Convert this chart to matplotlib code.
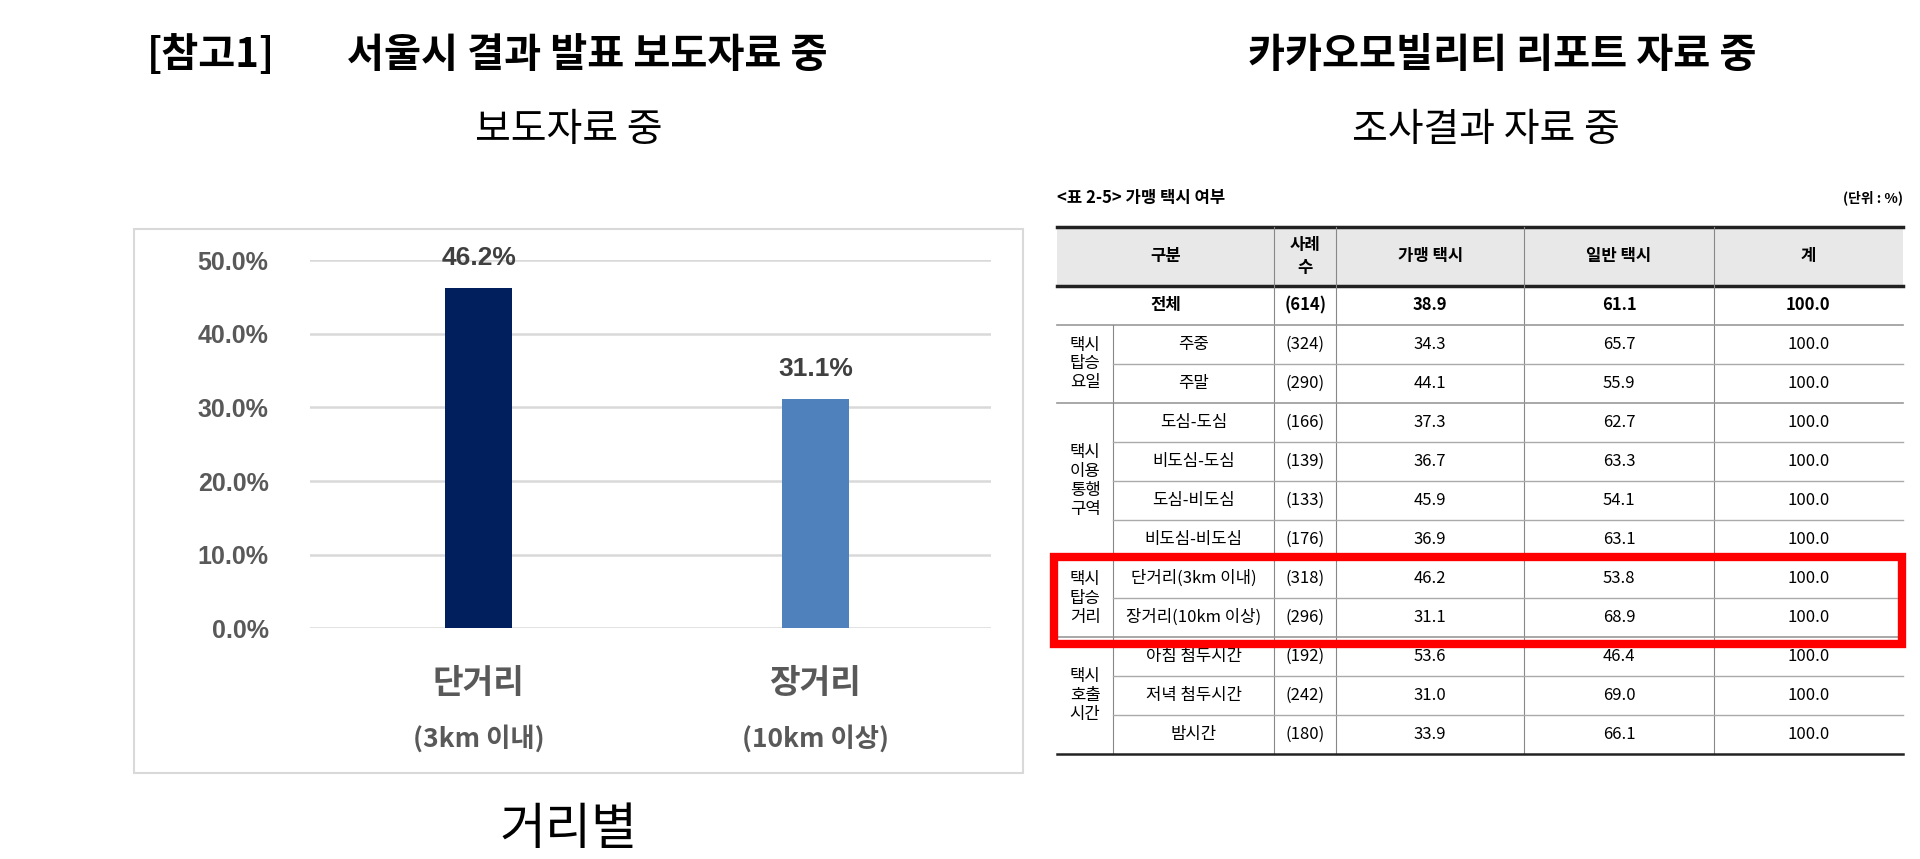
import matplotlib.pyplot as plt
from matplotlib.patches import Rectangle

plt.rcParams['font.family'] = ['Noto Sans CJK KR', 'DejaVu Sans']

# --- data ---
bar_cats = ['단거리', '장거리']
bar_sub = ['(3km 이내)', '(10km 이상)']
bar_vals = [46.2, 31.1]
bar_colors = ['#001f5c', '#4f81bd']

groups = [('', 1), ('택시\n탑승\n요일', 2), ('택시\n이용\n통행\n구역', 4),
          ('택시\n탑승\n거리', 2), ('택시\n호출\n시간', 3)]
row_names = ['전체', '주중', '주말', '도심-도심', '비도심-도심', '도심-비도심', '비도심-비도심',
             '단거리(3km 이내)', '장거리(10km 이상)', '아침 첨두시간', '저녁 첨두시간', '밤시간']
cases = ['(614)', '(324)', '(290)', '(166)', '(139)', '(133)', '(176)',
         '(318)', '(296)', '(192)', '(242)', '(180)']
franchise = [38.9, 34.3, 44.1, 37.3, 36.7, 45.9, 36.9, 46.2, 31.1, 53.6, 31.0, 33.9]
normal = [61.1, 65.7, 55.9, 62.7, 63.3, 54.1, 63.1, 53.8, 68.9, 46.4, 69.0, 66.1]
total = [100.0] * 12
headers = ['구분', '사례\n수', '가맹 택시', '일반 택시', '계']

W, H = 1566, 700  # layout units (scaled to the 1920x859 canvas)
fig = plt.figure(figsize=(19.2, 8.59), dpi=100)
ov = fig.add_axes([0, 0, 1, 1])
ov.set_xlim(0, W)
ov.set_ylim(H, 0)
ov.axis('off')

# --- titles ---
ov.text(120, 45, '[참고1]', fontsize=29, fontweight='bold', va='center')
ov.text(283, 45, '서울시 결과 발표 보도자료 중', fontsize=29, fontweight='bold', va='center')
ov.text(1225, 45, '카카오모빌리티 리포트 자료 중', fontsize=29, fontweight='bold', va='center', ha='center')
ov.text(464, 106, '보도자료 중', fontsize=28, va='center', ha='center')
ov.text(1212, 106, '조사결과 자료 중', fontsize=28, va='center', ha='center')
ov.text(464, 676, '거리별', fontsize=36, va='center', ha='center')

# --- left bar chart ---
ov.add_patch(Rectangle((109, 187), 725, 443, fill=False, edgecolor='#d9d9d9', lw=1.5))
ax = fig.add_axes([253 / W, (H - 512) / H, 555 / W, 300 / H])
ax.patch.set_alpha(0)
x = list(range(len(bar_vals)))
ax.bar(x, bar_vals, width=0.2, color=bar_colors, zorder=3)
ax.set_xlim(-0.5, 1.52)
ax.set_ylim(0, 50)
ax.set_yticks(range(0, 51, 10))
ax.set_yticklabels([f'{v:.1f}%' for v in range(0, 51, 10)], fontsize=18,
                   fontweight='bold', color='#595959', family=['Liberation Sans'])
ax.tick_params(axis='y', length=0, pad=30)
ax.set_xticks([])
ax.grid(axis='y', color='#d9d9d9', lw=1.8)
for s in ax.spines.values():
    s.set_visible(False)
for i, v in enumerate(bar_vals):
    ax.text(i, v + 2.5, f'{v}%', ha='center', va='bottom', fontsize=19,
            fontweight='bold', color='#404040', family=['Liberation Sans'])
    ax.text(i, -0.15, bar_cats[i], transform=ax.get_xaxis_transform(), ha='center',
            va='center', fontsize=24, fontweight='bold', color='#595959')
    ax.text(i, -0.30, bar_sub[i], transform=ax.get_xaxis_transform(), ha='center',
            va='center', fontsize=19, fontweight='bold', color='#595959')

# --- right table ---
cx = [862, 908, 1039, 1090, 1243, 1398, 1552]
top, hb, rh = 185, 233, 31.8
ov.text(862, 161, '<표 2-5> 가맹 택시 여부', fontsize=12, fontweight='bold', va='center')
ov.text(1552, 161, '(단위 : %)', fontsize=10, fontweight='bold', va='center', ha='right')
ov.add_patch(Rectangle((cx[0], top), cx[-1] - cx[0], hb - top, color='#e8e8e8', lw=0))
ov.plot([cx[0], cx[-1]], [top, top], color='#222222', lw=2.5)
ov.plot([cx[0], cx[-1]], [hb, hb], color='#222222', lw=2.5)
hx = [(cx[0] + cx[2]) / 2] + [(cx[k] + cx[k + 1]) / 2 for k in range(2, 6)]
for h, xx in zip(headers, hx):
    ov.text(xx, (top + hb) / 2, h, ha='center', va='center', fontsize=12,
            fontweight='bold', linespacing=1.3)
for k in range(2, 6):
    ov.plot([cx[k], cx[k]], [top, hb + rh * len(row_names)], color='#888888', lw=0.8)

r = 0
for gname, n in groups:
    y0 = hb + r * rh
    y1 = y0 + n * rh
    if gname:
        ov.text((cx[0] + cx[1]) / 2, (y0 + y1) / 2, gname, ha='center', va='center',
                fontsize=12, linespacing=1.15)
        ov.plot([cx[1], cx[1]], [y0, y1], color='#888888', lw=0.8)
    ov.plot([cx[0], cx[-1]], [y1, y1], color='#222222' if r + n == 12 else '#999999',
            lw=1.8 if r + n == 12 else 1.2)
    for j in range(r, r + n):
        yc = hb + (j + 0.5) * rh
        if j < r + n - 1:
            ov.plot([cx[1], cx[-1]], [yc + rh / 2] * 2, color='#aaaaaa', lw=1.0)
        bold = 'bold' if j == 0 else 'normal'
        nx = (cx[0] + cx[2]) / 2 if j == 0 else (cx[1] + cx[2]) / 2
        ov.text(nx, yc, row_names[j], ha='center', va='center', fontsize=12, fontweight=bold)
        vals = [cases[j], f'{franchise[j]:.1f}', f'{normal[j]:.1f}', f'{total[j]:.1f}']
        for k, t in enumerate(vals):
            ov.text((cx[k + 2] + cx[k + 3]) / 2, yc, t, ha='center', va='center',
                    fontsize=12, fontweight=bold)
    r += n

# highlight box around the distance rows
ov.add_patch(Rectangle((860, hb + 7 * rh - 2), 1551 - 860, 2 * rh + 8, fill=False,
                       edgecolor='#ff0000', lw=6, zorder=5))

fig.savefig('out.png', dpi=100)
